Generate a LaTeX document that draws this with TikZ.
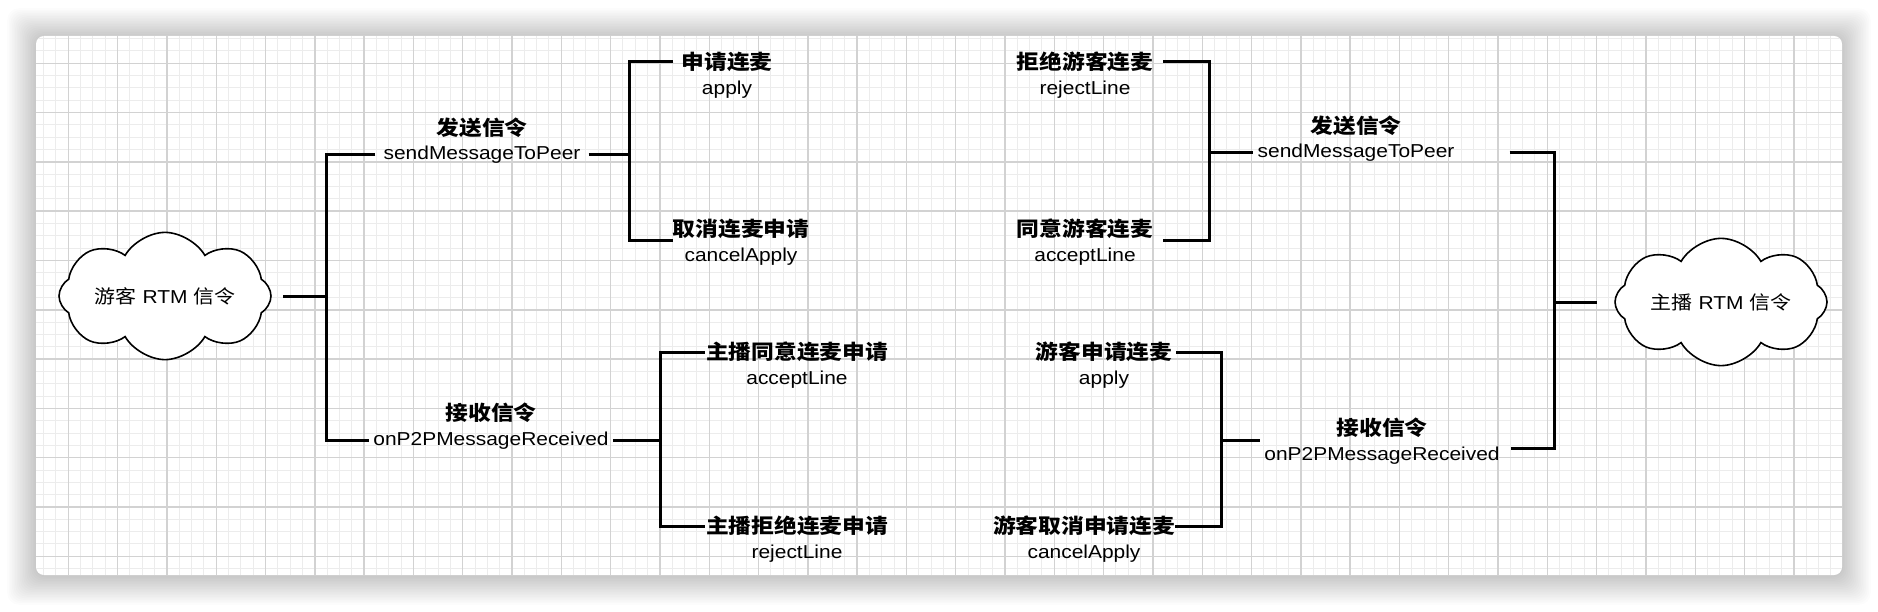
\documentclass[tikz,border=0pt]{standalone}
\usepackage{fontspec}
\setmainfont{Liberation Sans}[FakeStretch=1.12]
\newfontfamily\cjk{Noto Sans CJK SC}[FakeStretch=1.12]
\usetikzlibrary{shapes.symbols, positioning}
\definecolor{gridminor}{RGB}{236,236,236}
\definecolor{gridmajor}{RGB}{210,210,210}

\begin{document}
\begin{tikzpicture}[
    x=1pt, y=-1pt, node distance=4.5pt,
    wire/.style={draw=black, line width=3pt},
    latin/.style={font=\fontsize{18.7}{22}\selectfont, text height=14pt, text depth=4pt, inner xsep=4pt, inner ysep=2pt},
    title/.style={font=\cjk\bfseries\fontsize{20.3}{24}\selectfont, text height=17pt, text depth=2pt, inner xsep=4pt, inner ysep=2pt},
    bubble/.style={cloud, cloud puffs=8, cloud puff arc=120, aspect=2.2, draw=black, line width=1.6pt, fill=white, minimum width=212pt, minimum height=100pt, inner sep=0pt, font=\fontsize{18.7}{22}\selectfont}
  ]
    \useasboundingbox (0,0) rectangle (1878,612);
    \fill[white] (0,0) rectangle (1878,612);
    % shadow and card
    \foreach \i in {1,...,18}
      \fill[black, opacity=0.011, rounded corners=12pt] (36-1.6*\i, 37-1.6*\i) rectangle (1842+1.6*\i, 576+1.6*\i);
    \fill[white, rounded corners=8pt] (36,36) rectangle (1842,575);
    \begin{scope}
      \clip[rounded corners=8pt] (36,36) rectangle (1842,575);
      \foreach \k in {2,...,147}
        \draw[gridminor, line width=1pt] ({19+12.325*\k},36) -- ({19+12.325*\k},575);
      \foreach \k in {2,...,45}
        \draw[gridminor, line width=1pt] (36,{14+12.325*\k}) -- (1842,{14+12.325*\k});
      \foreach \k in {1,...,36}
        \draw[gridmajor, line width=1.4pt] ({19+49.3*\k},36) -- ({19+49.3*\k},575);
      \foreach \k in {1,...,11}
        \draw[gridmajor, line width=1.4pt] (36,{14+49.3*\k}) -- (1842,{14+49.3*\k});
    \end{scope}

    \node (cloudL) [bubble] at (165,296) {{\cjk 游客} RTM {\cjk 信令}};
    \node (cloudR) [bubble] at (1721,302) {{\cjk 主播} RTM {\cjk 信令}};

    % guest side
    \node (lsend) [latin, inner xsep=8pt] at (482,155) {sendMessageToPeer};
    \node (lsendT) [title, above=of lsend] {发送信令};
    \node (lrecv) [latin] at (491,440) {onP2PMessageReceived};
    \node (lrecvT) [title, above=of lrecv] {接收信令};
    \node (lapplyT) [title, inner xsep=8pt] at (727,62) {申请连麦};
    \node (lapply) [latin, below=of lapplyT] {apply};
    \node (lcancelT) [title, inner xsep=0pt] at (741,229) {取消连麦申请};
    \node (lcancel) [latin, below=of lcancelT] {cancelApply};
    \node (lacceptT) [title, inner xsep=1pt] at (797,352) {主播同意连麦申请};
    \node (laccept) [latin, below=of lacceptT] {acceptLine};
    \node (lrejectT) [title, inner xsep=1pt] at (797,526) {主播拒绝连麦申请};
    \node (lreject) [latin, below=of lrejectT] {rejectLine};

    % host side
    \node (rrejectT) [title, inner xsep=10pt] at (1085,62) {拒绝游客连麦};
    \node (rreject) [latin, below=of rrejectT] {rejectLine};
    \node (racceptT) [title, inner xsep=10pt] at (1085,229) {同意游客连麦};
    \node (raccept) [latin, below=of racceptT] {acceptLine};
    \node (rsend) [latin] at (1356,153) {sendMessageToPeer};
    \node (rsendT) [title, above=of rsend] {发送信令};
    \node (rapplyT) [title] at (1104,352) {游客申请连麦};
    \node (rapply) [latin, below=of rapplyT] {apply};
    \node (rcancelT) [title, inner xsep=0pt] at (1084,526) {游客取消申请连麦};
    \node (rcancel) [latin, below=of rcancelT] {cancelApply};
    \node (rrecv) [latin] at (1382,455) {onP2PMessageReceived};
    \node (rrecvT) [title, above=of rrecv] {接收信令};

    \coordinate (jA) at (326,296);
    \coordinate (jB) at (629,155);
    \coordinate (jC) at (660,440);
    \coordinate (jD) at (1209,153);
    \coordinate (jE) at (1221,440);
    \coordinate (jF) at (1554,302);

    \draw[wire] (cloudL.east -| 283,0) -- (jA);
    \draw[wire] (lsend.west) -| (jA) |- (lrecv.west);
    \draw[wire] (lsend.east) -- (jB);
    \draw[wire] (lapplyT.west) -| (jB) |- (lcancelT.south west);
    \draw[wire] (lrecv.east) -- (jC);
    \draw[wire] (lacceptT.west) -| (jC) |- (lrejectT.west);

    \draw[wire] (rrejectT.east) -| (jD) |- (racceptT.south east);
    \draw[wire] (jD) -- (rsend.west);
    \draw[wire] (rapplyT.east) -| (jE) |- (rcancelT.east);
    \draw[wire] (jE) -- (jE -| rrecv.west);
    \draw[wire] ([xshift=51pt]rsend.east) -| (jF) |- ([shift={(7pt,7pt)}]rrecv.east);
    \draw[wire] (jF) -- (cloudR.west -| 1597,0);
  \end{tikzpicture}
\end{document}
